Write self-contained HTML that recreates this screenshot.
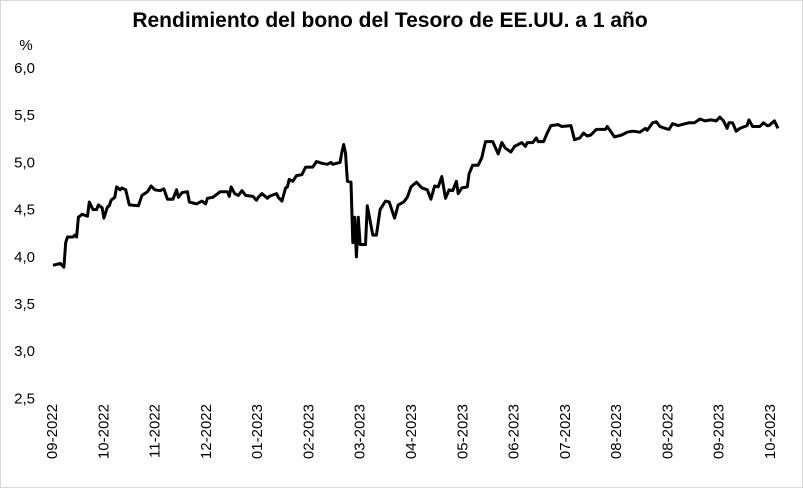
<!DOCTYPE html>
<html><head><meta charset="utf-8"><style>
html,body{margin:0;padding:0;background:#fff}
svg{display:block;font-family:"Liberation Sans",Arial,sans-serif}
</style></head><body>
<svg id="chart" width="803" height="488" viewBox="0 0 803 488">
<rect x="0.5" y="0.5" width="802" height="487" fill="#fff" stroke="#d9d9d9"/>
<text x="390" y="27" text-anchor="middle" font-size="21" font-weight="bold" fill="#000">Rendimiento del bono del Tesoro de EE.UU. a 1 año</text>
<text x="26" y="50" text-anchor="middle" font-size="15" fill="#000">%</text>
<g id="yticks"></g><g id="xticks"></g>
<path id="line" fill="none" stroke="#000" stroke-width="3" stroke-linejoin="round"/>
</svg>
<script>
const days=[0,4,6,7,8,11,12,13,14,16,19,20,22,24,25,27,28,30,31,32,34,35,37,38,40,42,47,49,52,54,56,59,61,63,66,68,69,71,74,75,79,82,84,85,88,92,96,97,98,100,102,104,106,110,112,113,115,118,119,123,124,126,128,129,130,132,134,137,139,143,145,148,151,153,154,156,158,159,160,161,162,164,165,166,167,168,169,172,173,176,178,180,183,185,188,190,193,195,197,200,203,206,208,210,212,214,216,218,220,222,223,225,228,229,231,234,236,238,242,245,247,249,252,254,258,260,261,264,266,267,270,272,274,278,280,285,287,290,292,294,296,299,304,305,309,313,316,319,323,326,327,330,332,334,337,339,341,344,348,350,353,356,359,362,365,367,369,371,372,374,376,378,382,383,385,389,391,393,394,397,399];
const yields=[3.91,3.93,3.89,4.15,4.21,4.21,4.23,4.21,4.42,4.45,4.43,4.58,4.50,4.50,4.55,4.52,4.41,4.53,4.54,4.60,4.63,4.74,4.71,4.73,4.71,4.55,4.54,4.65,4.69,4.75,4.71,4.70,4.72,4.61,4.61,4.71,4.63,4.68,4.69,4.58,4.56,4.59,4.56,4.62,4.63,4.69,4.69,4.64,4.74,4.67,4.65,4.70,4.65,4.64,4.60,4.63,4.67,4.62,4.64,4.67,4.63,4.59,4.73,4.74,4.82,4.80,4.86,4.87,4.95,4.95,5.01,4.99,4.98,5.00,4.98,4.99,5.00,5.11,5.19,5.10,4.80,4.79,4.15,4.42,4.00,4.42,4.13,4.13,4.54,4.23,4.23,4.50,4.59,4.58,4.41,4.55,4.58,4.63,4.74,4.79,4.73,4.71,4.61,4.75,4.74,4.85,4.62,4.71,4.70,4.80,4.67,4.73,4.74,4.88,4.97,4.97,5.05,5.22,5.22,5.09,5.21,5.15,5.11,5.17,5.21,5.17,5.21,5.21,5.26,5.22,5.22,5.31,5.39,5.40,5.38,5.39,5.24,5.26,5.31,5.28,5.29,5.35,5.35,5.38,5.27,5.29,5.32,5.33,5.32,5.36,5.34,5.42,5.43,5.38,5.36,5.35,5.41,5.39,5.41,5.42,5.42,5.46,5.44,5.45,5.44,5.48,5.44,5.36,5.42,5.42,5.33,5.36,5.39,5.45,5.38,5.38,5.42,5.39,5.39,5.44,5.36];
const yTickValues=[2.5,3.0,3.5,4.0,4.5,5.0,5.5,6.0];
const xTickLabels=["09-2022","10-2022","11-2022","12-2022","01-2023","02-2023","03-2023","04-2023","05-2023","06-2023","07-2023","08-2023","08-2023","09-2023","10-2023"];
const X0=53,X1=778,DMAX=399,Y0=68,PX_PER_UNIT=94.4,YMAX=6.0;
function xs(d){return X0+(d/DMAX)*(X1-X0);}
function ys(v){return Y0+(YMAX-v)*PX_PER_UNIT;}
const NS="http://www.w3.org/2000/svg";
const yg=document.getElementById('yticks');
yTickValues.forEach(v=>{
  const t=document.createElementNS(NS,'text');
  t.setAttribute('x',35);t.setAttribute('y',ys(v)+5);
  t.setAttribute('text-anchor','end');t.setAttribute('font-size','15');
  t.textContent=v.toFixed(1).replace('.',',');
  
  
  yg.appendChild(t);
});
const xg=document.getElementById('xticks');
const step=(770-52)/(xTickLabels.length-1);
xTickLabels.forEach((lab,i)=>{
  const x=52+i*step;
  const t=document.createElementNS(NS,'text');
  t.setAttribute('transform','translate('+(x+5)+',404) rotate(-90)');
  t.setAttribute('text-anchor','end');t.setAttribute('font-size','15');
  t.textContent=lab;
  
  
  xg.appendChild(t);
});
let d='';
days.forEach((dd,i)=>{d+=(i?'L':'M')+xs(dd).toFixed(1)+','+ys(yields[i]).toFixed(1);});
document.getElementById('line').setAttribute('d',d);
</script>
</body></html>
